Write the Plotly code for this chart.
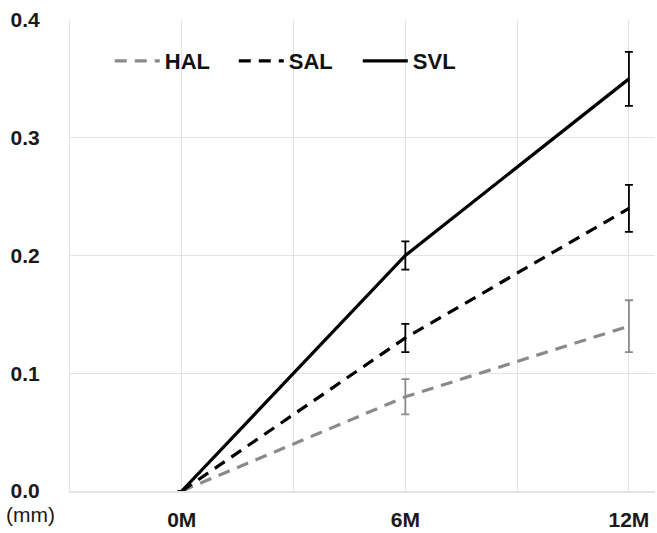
import plotly.graph_objects as go

# Time points (months) and mean growth (mm) with error bar half-widths
months = [0, 6, 12]
month_labels = ["0M", "6M", "12M"]

hal = [0.0, 0.08, 0.14]
hal_err = [0.0, 0.015, 0.022]

sal = [0.0, 0.13, 0.24]
sal_err = [0.0, 0.012, 0.02]

svl = [0.0, 0.20, 0.35]
svl_err = [0.0, 0.012, 0.023]

y_ticks = [0.0, 0.1, 0.2, 0.3, 0.4]

series = [
    ("HAL", hal, hal_err, "#8a8a8a", "12px,8px"),
    ("SAL", sal, sal_err, "#000000", "12px,8px"),
    ("SVL", svl, svl_err, "#000000", "solid"),
]

fig = go.Figure()
for name, vals, errs, color, dash in series:
    fig.add_trace(go.Scatter(
        x=months, y=vals, name=name, mode="lines",
        line=dict(color=color, width=3.2, dash=dash),
        error_y=dict(type="data", array=errs, visible=True,
                     color=color, thickness=1.8, width=4),
    ))

fam = "Liberation Sans, Arial, sans-serif"
grid = "#e3e3e3"
tick_font = dict(family=fam, size=21, color="#1a1a1a", weight="bold")

fig.update_layout(
    width=657, height=533,
    margin=dict(l=70, r=2, t=20, b=40),
    paper_bgcolor="white", plot_bgcolor="white",
    showlegend=True,
    legend=dict(orientation="h", x=0.068, y=0.913, xanchor="left", yanchor="middle",
                font=dict(family=fam, size=22, color="#111111", weight="bold"),
                bgcolor="rgba(0,0,0,0)", entrywidth=64, entrywidthmode="pixels",
                itemwidth=45),
    xaxis=dict(range=[-3, 12.7], tickvals=[-3, 0, 3, 6, 9, 12],
               ticktext=["", month_labels[0], "", month_labels[1], "", month_labels[2]],
               showgrid=True, gridcolor=grid, gridwidth=1,
               zeroline=False, showline=True, linecolor=grid, linewidth=1.5,
               ticks="", ticklabelstandoff=9, tickfont=tick_font),
    yaxis=dict(range=[0, 0.4], tickvals=y_ticks,
               ticktext=[f"{v:.1f}" for v in y_ticks],
               showgrid=True, gridcolor=grid, gridwidth=1,
               zeroline=False, showline=True, linecolor=grid, linewidth=1,
               ticks="", ticklabelstandoff=25, tickfont=tick_font),
)

fig.add_annotation(text="(mm)", xref="paper", yref="paper", x=-0.113, y=-0.022,
                   xanchor="left", yanchor="top", showarrow=False,
                   font=dict(family=fam, size=21, color="#1a1a1a"))

fig.write_html("out.html")
